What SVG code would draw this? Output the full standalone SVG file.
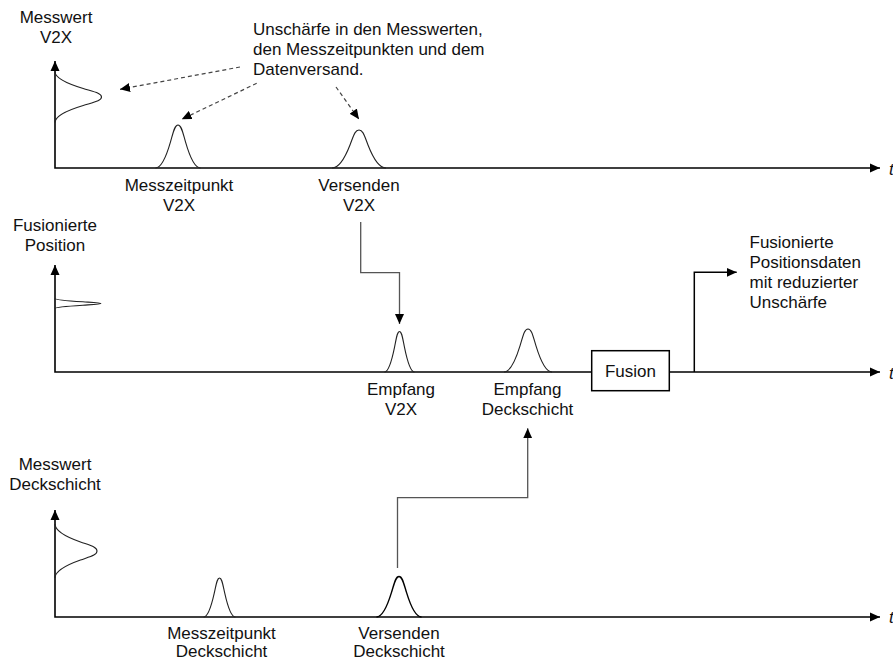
<svg xmlns="http://www.w3.org/2000/svg" xmlns:xlink="http://www.w3.org/1999/xlink" width="893" height="660" viewBox="0 0 893 660">
<style>
text{font-family:"Liberation Sans",Arial,sans-serif;font-size:17px;fill:#111}
.c{text-anchor:middle}
.t{font-style:italic}
.axis{fill:none;stroke:#000;stroke-width:1.6}
.bell{fill:none;stroke:#222;stroke-width:1.1}
.conn{fill:none;stroke:#555;stroke-width:1.3}
.out{fill:none;stroke:#000;stroke-width:1.5}
.dash{fill:none;stroke:#444;stroke-width:1.2;stroke-dasharray:4 3}
.box{fill:#fff;stroke:#000;stroke-width:1.5}
</style>
<defs>
<path id="g" d="M-3,0 C-2.3,0 -1.67,-0.2 -1,-0.607 C-0.6,-0.85 -0.45,-1 0,-1 C0.45,-1 0.6,-0.85 1,-0.607 C1.67,-0.2 2.3,0 3,0" vector-effect="non-scaling-stroke"/>
<marker id="ah" markerUnits="userSpaceOnUse" markerWidth="10" markerHeight="10" refX="10" refY="5" orient="auto-start-reverse"><path d="M0,0.5 L10,5 L0,9.5 z" fill="#000" stroke="none"/></marker>
<marker id="ahs" markerUnits="userSpaceOnUse" markerWidth="10" markerHeight="9" refX="10" refY="4.5" orient="auto"><path d="M0,0 L10,4.5 L0,9 z" fill="#000" stroke="none"/></marker>
</defs>

<g id="panel-top">
  <path class="axis" d="M55,61 V168 H880" marker-start="url(#ah)" marker-end="url(#ah)"/>
  <text class="t" x="889" y="175">t</text>
  <g id="label-messwert-v2x"><text class="c" x="56" y="23">Messwert</text><text class="c" x="56" y="43">V2X</text></g>
  <use id="bell-messwert-v2x" class="bell" href="#g" transform="translate(55,97) rotate(90) scale(8.5,46.5)"/>
  <g id="node-messzeitpunkt-v2x">
    <use class="bell" href="#g" transform="translate(178,168) scale(7.5,43)"/>
    <text class="c" x="179" y="190.5">Messzeitpunkt</text><text class="c" x="179" y="210.5">V2X</text>
  </g>
  <g id="node-versenden-v2x">
    <use class="bell" href="#g" transform="translate(359,168) scale(9,38)"/>
    <text class="c" x="359" y="190.5">Versenden</text><text class="c" x="359" y="210.5">V2X</text>
  </g>
  <g id="note-unschaerfe">
    <text x="253" y="35">Unschärfe in den Messwerten,</text>
    <text x="253" y="55">den Messzeitpunkten und dem</text>
    <text x="253" y="74.5">Datenversand.</text>
  </g>
</g>

<g id="panel-middle">
  <path class="axis" d="M55,265 V372 H880" marker-start="url(#ah)" marker-end="url(#ah)"/>
  <text class="t" x="889" y="379">t</text>
  <g id="label-fusionierte-position"><text class="c" x="55" y="231">Fusionierte</text><text class="c" x="55" y="251">Position</text></g>
  <use id="bell-fusionierte-position" class="bell" href="#g" transform="translate(55,303.5) rotate(90) scale(1.7,46)"/>
  <g id="node-empfang-v2x">
    <use class="bell" href="#g" transform="translate(399.5,372) scale(5,40.5)"/>
    <text class="c" x="401" y="395">Empfang</text><text class="c" x="401" y="415">V2X</text>
  </g>
  <g id="node-empfang-deckschicht">
    <use class="bell" href="#g" transform="translate(528,372) scale(8,43)"/>
    <text class="c" x="527.5" y="395">Empfang</text><text class="c" x="527.5" y="415">Deckschicht</text>
  </g>
  <g id="node-fusion">
    <rect class="box" x="591.7" y="350.7" width="77.6" height="40"/>
    <text class="c" x="630.5" y="377">Fusion</text>
  </g>
  <g id="note-fusionierte-daten">
    <text x="749.5" y="247.5">Fusionierte</text>
    <text x="749.5" y="267.5">Positionsdaten</text>
    <text x="749.5" y="287.5">mit reduzierter</text>
    <text x="749.5" y="307.5">Unschärfe</text>
  </g>
</g>

<g id="panel-bottom">
  <path class="axis" d="M55,510 V617 H880" marker-start="url(#ah)" marker-end="url(#ah)"/>
  <text class="t" x="889" y="623">t</text>
  <g id="label-messwert-deckschicht"><text class="c" x="55" y="469.5">Messwert</text><text class="c" x="55" y="489.5">Deckschicht</text></g>
  <use id="bell-messwert-deckschicht" class="bell" href="#g" transform="translate(55,551) rotate(90) scale(9,42)"/>
  <g id="node-messzeitpunkt-deckschicht">
    <use class="bell" href="#g" transform="translate(219.5,617) scale(5.3,39)"/>
    <text class="c" x="221.5" y="638.5">Messzeitpunkt</text><text class="c" x="221.5" y="656.5">Deckschicht</text>
  </g>
  <g id="node-versenden-deckschicht">
    <use class="bell" href="#g" transform="translate(399,617) scale(7.5,40.5)" style="stroke:#000;stroke-width:1.4"/>
    <text class="c" x="399" y="638.5">Versenden</text><text class="c" x="399" y="656.5">Deckschicht</text>
  </g>
</g>

<g id="connectors">
  <path class="conn" d="M360.7,222 V272.7 H399.5 V324" marker-end="url(#ah)"/>
  <path class="conn" d="M397.5,568 V497.7 H527.7 V428.3" marker-end="url(#ah)"/>
  <path class="out" d="M694.3,372 V272.3 H736.7" marker-end="url(#ah)"/>
  <path class="dash" d="M240,67 L120,89.3" marker-end="url(#ahs)"/>
  <path class="dash" d="M256.7,83.3 L181.7,119.3" marker-end="url(#ahs)"/>
  <path class="dash" d="M336,87 L359,119.3" marker-end="url(#ahs)"/>
</g>
</svg>
